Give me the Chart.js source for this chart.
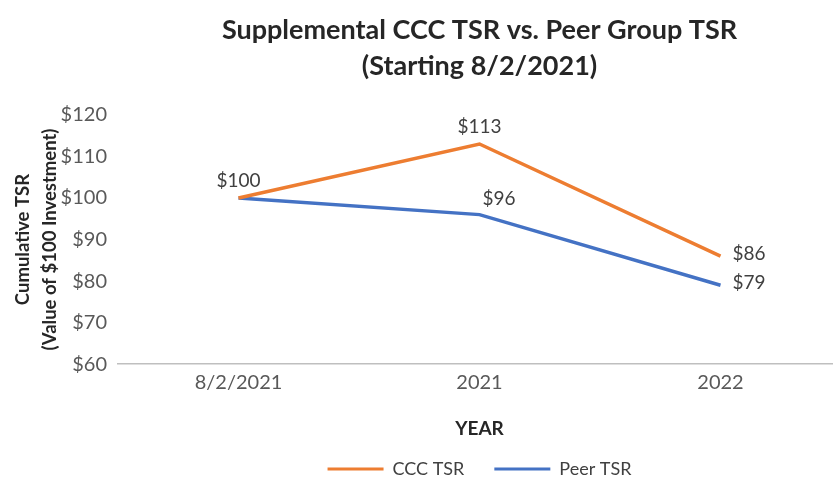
<!DOCTYPE html>
<html>
<head>
<meta charset="utf-8">
<script src="https://cdn.jsdelivr.net/npm/chart.js@4"></script>
<style>
  html, body { margin: 0; padding: 0; background: #fff; overflow: hidden; }
  #wrap { width: 850px; height: 483px; }
</style>
</head>
<body>
<div id="wrap"><canvas id="tsrChart" width="850" height="483"></canvas></div>
<script>
const years = ['8/2/2021', '2021', '2022'];
const cccTsr = [100, 113, 86];
const peerTsr = [100, 96, 79];
const yTicks = [60, 70, 80, 90, 100, 110, 120];

const FONT = 'Lato, "Open Sans", sans-serif';

// simple value labels, drawn next to each point
const valueLabels = {
    id: 'valueLabels',
    afterDatasetsDraw(chart, args, opts) {
        const ctx = chart.ctx;
        ctx.save();
        ctx.font = '19px ' + FONT;
        ctx.fillStyle = '#404040';
        chart.data.datasets.forEach((ds, i) => {
            const meta = chart.getDatasetMeta(i);
            const place = opts.place[i];
            meta.data.forEach((pt, j) => {
                if (!place[j]) return;
                const txt = '$' + ds.data[j];
                if (place[j] === 'above') {
                    ctx.textAlign = 'center';
                    ctx.textBaseline = 'bottom';
                    ctx.fillText(txt, pt.x, pt.y - 8);
                } else if (place[j] === 'aboveRight') {
                    ctx.textAlign = 'left';
                    ctx.textBaseline = 'bottom';
                    ctx.fillText(txt, pt.x + 3, pt.y - 6);
                } else {
                    ctx.textAlign = 'left';
                    ctx.textBaseline = 'middle';
                    ctx.fillText(txt, pt.x + 12, pt.y - 2);
                }
            });
        });
        ctx.restore();
    }
};

new Chart(document.getElementById('tsrChart').getContext('2d'), {
    type: 'line',
    data: {
        labels: years,
        datasets: [
            { label: 'CCC TSR', data: cccTsr, borderColor: '#ED7D31', backgroundColor: '#ED7D31', borderWidth: 3.5, pointRadius: 0, tension: 0 },
            { label: 'Peer TSR', data: peerTsr, borderColor: '#4472C4', backgroundColor: '#4472C4', borderWidth: 3.5, pointRadius: 0, tension: 0 }
        ]
    },
    options: {
        responsive: false,
        animation: false,
        layout: { padding: { left: 8, right: 9, top: 12, bottom: -5 } },
        plugins: {
            title: {
                display: true,
                fullSize: false,
                text: ['Supplemental CCC TSR vs. Peer Group TSR', '(Starting 8/2/2021)'],
                color: '#262626',
                font: { family: FONT, size: 27, weight: 'bold', lineHeight: 1.35 },
                padding: { top: 0, bottom: 30 }
            },
            legend: {
                position: 'bottom',
                fullSize: false,
                // empty title with negative padding: lets the item gap be wide
                // without making the legend box tall
                title: { display: true, text: '', font: { size: 1 }, padding: { top: 0, bottom: -21.2 } },
                labels: {
                    color: '#404040',
                    font: { family: FONT, size: 18 },
                    boxWidth: 56,
                    boxHeight: 3,
                    padding: 30,
                    generateLabels(chart) {
                        return chart.data.datasets.map((ds, i) => ({
                            text: ds.label,
                            fillStyle: ds.borderColor,
                            strokeStyle: ds.borderColor,
                            lineWidth: 0,
                            datasetIndex: i,
                            fontColor: '#404040'
                        }));
                    }
                }
            },
            tooltip: { enabled: false },
            valueLabels: {
                place: [
                    ['above', 'above', 'right'],
                    [null, 'aboveRight', 'right']
                ]
            }
        },
        scales: {
            x: {
                offset: true,
                grid: { display: false, drawTicks: false },
                border: { color: '#BFBFBF', width: 1.5 },
                ticks: { color: '#595959', font: { family: FONT, size: 20 }, padding: 6 },
                title: { display: true, text: 'YEAR', color: '#262626', font: { family: FONT, size: 19, weight: 'bold' }, padding: { top: 17, bottom: 10 } }
            },
            y: {
                min: 60,
                max: 120,
                afterBuildTicks(axis) { axis.ticks = yTicks.map(v => ({ value: v })); },
                afterFit(axis) { axis.width = 110; },
                grid: { display: false, drawTicks: false },
                border: { display: false },
                ticks: { color: '#595959', font: { family: FONT, size: 20 }, padding: 11, callback: v => '$' + v },
                title: {
                    display: true,
                    text: ['Cumulative TSR', '(Value of $100 Investment)'],
                    color: '#262626',
                    font: { family: FONT, size: 18.5, weight: 'bold', lineHeight: 1.45 },
                    padding: { top: 2, bottom: 0 }
                }
            }
        }
    },
    plugins: [valueLabels]
});
</script>
</body>
</html>
